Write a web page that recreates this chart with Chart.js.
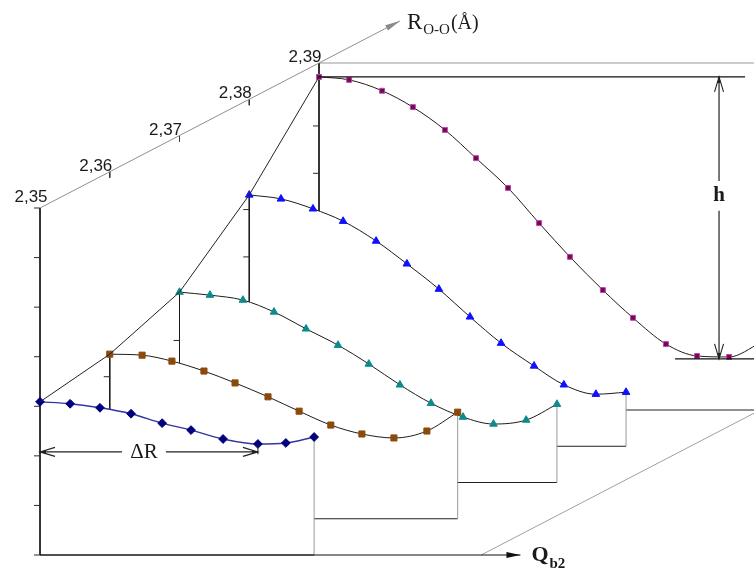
<!DOCTYPE html>
<html>
<head>
<meta charset="utf-8">
<script src="https://cdn.jsdelivr.net/npm/chart.js@4.4.1/dist/chart.umd.min.js"></script>
<style>
  html, body { margin: 0; padding: 0; background: #fff; }
  #wrap { width: 754px; height: 569px; position: relative; }
</style>
</head>
<body>
<div id="wrap"><canvas id="c"></canvas></div>
<script>
// O–O distances (Å) of the five potential sections, and the labels of the depth axis
const rValues = [2.35, 2.36, 2.37, 2.38, 2.39];
const rTickLabels = ['2,35', '2,36', '2,37', '2,38', '2,39'];

// Q_b2 coordinate and energy (arbitrary units) along each section
const qAt235 = [0, 0.96, 1.91, 2.9, 3.89, 4.81, 5.83, 6.94, 7.83, 8.73];
const eAt235 = [3.09, 3.05, 2.97, 2.85, 2.66, 2.52, 2.34, 2.24, 2.26, 2.38];

const qAt236 = [0, 1.03, 1.98, 3.0, 3.99, 5.04, 6.03, 7.04, 8.03, 9.05, 10.1, 11.08];
const eAt236 = [3.32, 3.30, 3.18, 2.98, 2.74, 2.46, 2.17, 1.89, 1.71, 1.63, 1.77, 2.15];

const qAt237 = [0, 0.97, 2.02, 3.01, 4.03, 5.05, 6.03, 7.02, 8.01, 9.03, 10.0, 11.04, 12.02];
const eAt237 = [3.84, 3.78, 3.68, 3.44, 3.10, 2.77, 2.39, 1.97, 1.60, 1.32, 1.18, 1.26, 1.58];

const qAt238 = [0, 1.01, 2.03, 2.99, 4.04, 5.02, 6.04, 7.03, 8.02, 9.07, 10.02, 11.04, 12.0];
const eAt238 = [5.07, 4.99, 4.79, 4.54, 4.14, 3.68, 3.17, 2.61, 2.08, 1.62, 1.24, 1.05, 1.09];

const qAt239 = [0, 0.96, 2.01, 2.99, 4.01, 5.0, 6.02, 7.01, 7.99, 9.04, 10.0, 11.05, 12.04, 13.06, 14.05];
const eAt239 = [6.72, 6.66, 6.44, 6.11, 5.65, 5.08, 4.48, 3.77, 3.09, 2.42, 1.86, 1.33, 1.09, 1.07, 1.35];

// barrier height marker (on the 2,39 section) and well separation marker (on the 2,35 section)
const barrierBottomE = 1.03;
const barrierQ = 12.74;
const wellSeparationE = 2.08;

const sectionQ = [qAt235, qAt236, qAt237, qAt238, qAt239];
const sectionE = [eAt235, eAt236, eAt237, eAt238, eAt239];

// ---- oblique projection: Q to the right, energy up, R_O-O receding up-right ----
const ORIGIN_X = 40, ORIGIN_Y = 555, Q_PX = 31.4, E_PX = 49.57;
const W = 754, H = 569;
const DEPTH_Q = 69.75 / Q_PX;   // horizontal shift per 0.01 Å
const DEPTH_E = 36.25 / E_PX;   // vertical shift per 0.01 Å
const R_STEP = 0.01;
const E_TOP = 7;                // height of the front and back walls
const Q_AXIS_END = 15.3;
const R_AXIS_END = 2.4016;
const TICK_Q = 6 / Q_PX;
const TICK_E = 6 / E_PX;
const INNER_TICK_STEP = 0.955;

function place(q, e, r) {
  const k = (r - rValues[0]) / R_STEP;
  return { x: q + DEPTH_Q * k, y: e + DEPTH_E * k };
}

const sectionStyle = [
  { pointStyle: 'rectRot',  radius: 4.4, fill: '#00007f', stroke: '#00007f', line: '#3434a6', width: 1.4 },
  { pointStyle: 'rect',     radius: 4.3, fill: '#8c4a0a', stroke: '#8c4a0a', line: '#1c1c1c', width: 1 },
  { pointStyle: 'triangle', radius: 4.4, fill: '#0e8a8a', stroke: '#0e8a8a', line: '#1c1c1c', width: 1 },
  { pointStyle: 'triangle', radius: 4.4, fill: '#1010ff', stroke: '#1010ff', line: '#1c1c1c', width: 1 },
  { pointStyle: 'rect',     radius: 3.5, fill: '#7a0848', stroke: '#b548b5', line: '#2a1818', width: 1 }
];
const edgeColors = ['#1a1a1a', '#222222', '#9a9a9a'];

const datasets = [];
const lastSection = rValues.length - 1;

rValues.forEach((r, k) => {
  const q = sectionQ[k], e = sectionE[k], st = sectionStyle[k];
  const n = q.length - 1;
  const curve = q.map((qv, i) => place(qv, e[i], r));
  const floorY = place(0, 0, r).y;
  const base = 10 + 10 * k;
  const topE = (k === 0 || k === lastSection) ? E_TOP : e[0];

  // opaque face of the section, hiding what lies behind it
  datasets.push({
    data: curve, order: base + 4, borderWidth: 0, pointRadius: 0,
    backgroundColor: '#ffffff', fill: { value: floorY },
    cubicInterpolationMode: 'monotone'
  });

  // left wall, floor and right wall of the section
  datasets.push({
    data: [place(0, topE, r), place(0, 0, r), place(q[n], 0, r), place(q[n], e[n], r)],
    order: base + 3, borderWidth: 1, pointRadius: 0, fill: false,
    borderColor: '#1a1a1a',
    segment: { borderColor: c => edgeColors[c.p0DataIndex] }
  });

  // energy ticks on the left wall
  const ticks = [];
  if (k === 0) {
    for (let j = 0; j <= E_TOP; j++) {
      ticks.push(place(-TICK_Q, j, r), place(0, j, r), { x: place(0, j, r).x, y: null });
    }
  } else {
    for (let j = 1; j * INNER_TICK_STEP <= topE - 0.2 && j * INNER_TICK_STEP <= e[0] - 0.2; j++) {
      const ev = j * INNER_TICK_STEP;
      ticks.push(place(-TICK_Q, ev, r), place(0, ev, r), { x: place(0, ev, r).x, y: null });
    }
  }
  datasets.push({
    data: ticks, order: base + 2, borderWidth: 1, borderColor: '#2a2a2a',
    pointRadius: 0, fill: false, spanGaps: false
  });

  // the potential curve itself
  datasets.push({
    data: curve, order: base + 1, borderColor: st.line, borderWidth: st.width,
    pointStyle: st.pointStyle, pointRadius: st.radius,
    pointBackgroundColor: st.fill, pointBorderColor: st.stroke, pointBorderWidth: 1,
    fill: false, cubicInterpolationMode: 'monotone'
  });
});

const r0 = rValues[0], rBack = rValues[lastSection];
const line = (data, color, width, order) => ({
  data, order, borderColor: color, borderWidth: width, pointRadius: 0, fill: false, spanGaps: false
});

// Q axis along the front floor
datasets.push(line([place(0, 0, r0), place(Q_AXIS_END, 0, r0)], '#111111', 1.2, 5));
// R axis along the top of the walls
datasets.push(line([place(0, E_TOP, r0), place(0, E_TOP, R_AXIS_END)], '#8f8f8f', 1, 5));
// R axis ticks
const rTicks = [];
rValues.forEach(r => {
  rTicks.push(place(0, E_TOP, r), place(0, E_TOP - TICK_E, r), { x: place(0, E_TOP, r).x, y: null });
});
datasets.push(line(rTicks, '#333333', 1, 5));
// top edge of the back wall
datasets.push(line([place(0, E_TOP, rBack), place(Q_AXIS_END + 2, E_TOP, rBack)], '#9a9a9a', 1.2, 5));
// right edge of the floor
const qFloorEnd = qAt239[qAt239.length - 1];
datasets.push(line([place(qFloorEnd, 0, r0), place(qFloorEnd, 0, rBack)], '#a0a0a0', 1, 5));
// ridge joining the first point of each section
datasets.push(line(rValues.map((r, k) => place(0, sectionE[k][0], r)), '#222222', 1, 4));

// barrier height h
const barrierTopE = Math.max(...eAt239);
const hLabelE = 4.32, hGap = 0.3;
datasets.push(line([place(0, barrierTopE, rBack), place(13.57, barrierTopE, rBack)], '#111111', 1.2, 3));
datasets.push(line([place(11.34, barrierBottomE, rBack), place(15, barrierBottomE, rBack)], '#111111', 1.2, 3));
datasets.push(line([
  place(barrierQ, barrierTopE, rBack), place(barrierQ, hLabelE + hGap, rBack),
  { x: place(barrierQ, 0, rBack).x, y: null },
  place(barrierQ, hLabelE - hGap, rBack), place(barrierQ, barrierBottomE, rBack)
], '#222222', 1.2, 3));

// well separation ΔR
const qMin235 = qAt235[eAt235.indexOf(Math.min(...eAt235))];
const dRLabelQ = 3.31, dRGap = 0.7;
datasets.push(line([
  place(0, wellSeparationE, r0), place(dRLabelQ - dRGap, wellSeparationE, r0),
  { x: dRLabelQ, y: null },
  place(dRLabelQ + dRGap, wellSeparationE, r0), place(qMin235, wellSeparationE, r0)
], '#222222', 1.2, 3));
datasets.push(line([place(qMin235, wellSeparationE - 0.05, r0), place(qMin235, wellSeparationE + 0.16, r0)], '#222222', 1, 3));

// arrowheads and text labels
const overlay = {
  id: 'overlay',
  afterDatasetsDraw(chart) {
    const { ctx } = chart;
    const sx = chart.scales.x, sy = chart.scales.y;
    const px = p => ({ x: sx.getPixelForValue(p.x), y: sy.getPixelForValue(p.y) });

    function head(tip, from, len, half, color, filled, withDot) {
      const dx = tip.x - from.x, dy = tip.y - from.y;
      const d = Math.hypot(dx, dy) || 1;
      const ux = dx / d, uy = dy / d, nx = -uy, ny = ux;
      ctx.save();
      ctx.strokeStyle = color; ctx.fillStyle = color; ctx.lineWidth = 1.1;
      ctx.beginPath();
      ctx.moveTo(tip.x - ux * len + nx * half, tip.y - uy * len + ny * half);
      ctx.lineTo(tip.x, tip.y);
      ctx.lineTo(tip.x - ux * len - nx * half, tip.y - uy * len - ny * half);
      if (filled) { ctx.closePath(); ctx.fill(); } else { ctx.stroke(); }
      if (withDot) {
        ctx.beginPath();
        ctx.moveTo(tip.x, tip.y);
        ctx.lineTo(tip.x - ux * 6 + nx * 1.8, tip.y - uy * 6 + ny * 1.8);
        ctx.lineTo(tip.x - ux * 6 - nx * 1.8, tip.y - uy * 6 - ny * 1.8);
        ctx.closePath(); ctx.fill();
      }
      ctx.restore();
    }

    // axis arrows
    const rTip = px(place(0, E_TOP, R_AXIS_END));
    head(rTip, px(place(0, E_TOP, 2.39)), 15, 3, '#8a8a8a', true, false);
    const qTip = px(place(Q_AXIS_END, 0, r0));
    head(qTip, px(place(0, 0, r0)), 14, 3, '#111111', true, false);

    // h arrows
    const hTop = px(place(barrierQ, barrierTopE, rBack));
    const hBot = px(place(barrierQ, barrierBottomE, rBack));
    head(hTop, hBot, 15, 4.5, '#222222', false, true);
    head(hBot, hTop, 15, 4.5, '#222222', false, true);

    // ΔR arrows
    const dL = px(place(0, wellSeparationE, r0));
    const dR = px(place(qMin235, wellSeparationE, r0));
    head(dL, dR, 15, 4.5, '#222222', false, true);
    head(dR, dL, 15, 4.5, '#222222', false, true);

    ctx.save();
    ctx.fillStyle = '#1a1a1a';
    // depth axis tick labels
    ctx.font = '17px "Liberation Sans", Arial, sans-serif';
    ctx.textAlign = 'center';
    ctx.textBaseline = 'alphabetic';
    rValues.forEach((r, i) => {
      const p = px(place(0, E_TOP, r));
      if (i === 0) ctx.fillText(rTickLabels[i], p.x - 9, p.y - 6);
      else ctx.fillText(rTickLabels[i], p.x - 14, p.y - 1);
    });

    // R_O-O(Å)
    ctx.textAlign = 'left';
    let x0 = rTip.x + 7, yb = rTip.y + 8;
    ctx.font = '23px "Liberation Serif", serif';
    ctx.fillText('R', x0, yb);
    x0 += ctx.measureText('R').width + 1;
    ctx.font = '15px "Liberation Serif", serif';
    ctx.fillText('O-O', x0, yb + 5);
    x0 += ctx.measureText('O-O').width + 1;
    ctx.font = '20px "Liberation Serif", serif';
    ctx.fillText('(Å)', x0, yb);

    // Q_b2
    x0 = qTip.x + 11; yb = qTip.y + 6;
    ctx.font = 'bold 22px "Liberation Serif", serif';
    ctx.fillText('Q', x0, yb);
    x0 += ctx.measureText('Q').width + 1;
    ctx.font = 'bold 15px "Liberation Serif", serif';
    ctx.fillText('b2', x0, yb + 7);

    // h
    const hp = px(place(barrierQ, hLabelE, rBack));
    ctx.textAlign = 'center';
    ctx.textBaseline = 'middle';
    ctx.font = 'bold 21px "Liberation Serif", serif';
    ctx.fillText('h', hp.x, hp.y);

    // ΔR
    const dp = px(place(dRLabelQ, wellSeparationE, r0));
    ctx.font = '21px "Liberation Serif", serif';
    ctx.fillText('ΔR', dp.x, dp.y + 1);
    ctx.restore();
  }
};

new Chart(document.getElementById('c'), {
  type: 'line',
  data: { datasets },
  options: {
    responsive: true,
    maintainAspectRatio: false,
    animation: false,
    events: [],
    layout: { padding: 0, autoPadding: false },
    plugins: { legend: { display: false }, tooltip: { enabled: false } },
    scales: {
      x: { type: 'linear', display: false, min: -ORIGIN_X / Q_PX, max: (W - ORIGIN_X) / Q_PX },
      y: { type: 'linear', display: false, min: -(H - ORIGIN_Y) / E_PX, max: ORIGIN_Y / E_PX }
    }
  },
  plugins: [overlay]
});
</script>
</body>
</html>
